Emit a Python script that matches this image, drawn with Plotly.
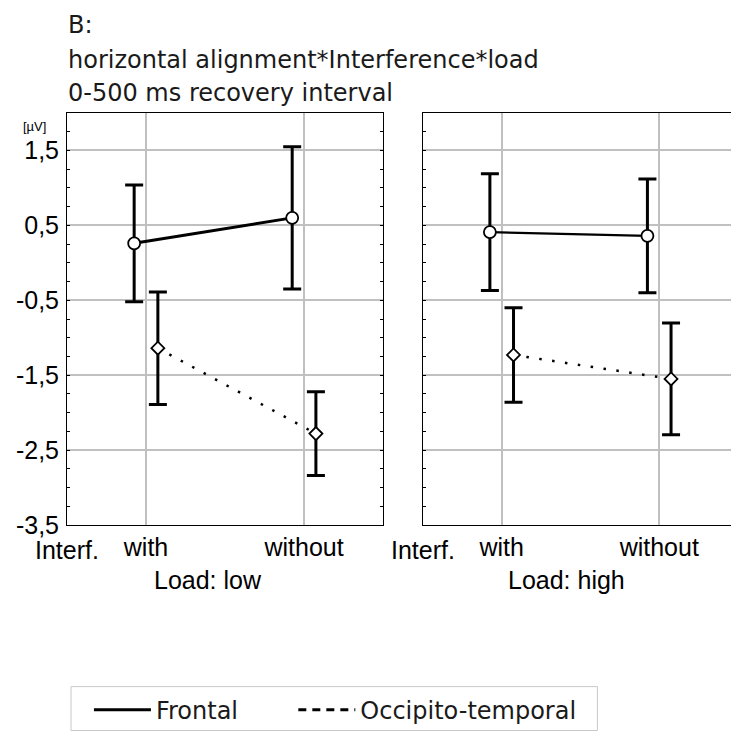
import plotly.graph_objects as go

# ---- data ----
interference = ["with", "without"]
x_pos = [0, 1]
frontal_low = [0.26, 0.60]
frontal_low_err = [0.78, 0.95]
occ_low = [-1.14, -2.28]
occ_low_err = [0.75, 0.56]
frontal_high = [0.41, 0.36]
frontal_high_err = [0.78, 0.76]
occ_high = [-1.23, -1.55]
occ_high_err = [0.63, 0.745]
ytick_vals = [1.5, 0.5, -0.5, -1.5, -2.5, -3.5]
ytick_text = ["1,5", "0,5", "-0,5", "-1,5", "-2,5", "-3,5"]
offset = 0.075

# page has an 8px body margin; all target coordinates below are window pixels
OFF = 8
W, H = 739, 733
L = 66 - OFF
T = 113 - OFF
R = OFF
B = H - (526 - OFF)
PW = W - L - R
PH = H - T - B


def px(x):
    return (x - OFF - L) / PW


def py(y):
    return (H - B - (y - OFF)) / PH


fig = go.Figure()


def add_series(xs, ys, errs, dash, symbol, msize, lw, xa, ya):
    fig.add_trace(go.Scatter(
        x=xs, y=ys, mode="lines+markers", xaxis=xa, yaxis=ya, showlegend=False,
        line=dict(color="black", width=lw, dash=dash),
        marker=dict(symbol=symbol, size=msize, color="white",
                    line=dict(color="black", width=1.8)),
        error_y=dict(type="data", array=errs, visible=True, color="black",
                     thickness=3, width=9),
        cliponaxis=False,
    ))


xl = [v - offset for v in x_pos]
xr = [v + offset for v in x_pos]
add_series(xl, frontal_low, frontal_low_err, "solid", "circle", 12, 3, "x", "y")
add_series(xr, occ_low, occ_low_err, "2.5px,10.5px", "diamond", 10, 2.5, "x", "y")
add_series(xl, frontal_high, frontal_high_err, "solid", "circle", 12, 2.2, "x2", "y2")
add_series(xr, occ_high, occ_high_err, "2.5px,10.5px", "diamond", 10, 2.5, "x2", "y2")

# legend entries (two legends so each can be placed like the reference)
fig.add_trace(go.Scatter(x=[None], y=[None], mode="lines", name="Frontal",
                         legend="legend",
                         line=dict(color="black", width=3)))
fig.add_trace(go.Scatter(x=[None], y=[None], mode="lines", name="Occipito-temporal",
                         legend="legend2",
                         line=dict(color="black", width=3, dash="8px,6px")))

d1 = [0, px(383)]
d2 = [px(423), 1]

xcommon = dict(range=[-0.5, 1.5], tickvals=x_pos, ticktext=interference,
               showgrid=True, gridcolor="#c0c0c0", gridwidth=1.5,
               showline=True, linecolor="black", linewidth=1, mirror=True,
               ticks="", zeroline=False,
               tickfont=dict(family="Liberation Sans, Arial", size=25, color="black"),
               ticklabelstandoff=0)
ycommon = dict(range=[-3.5, 2.0], tickvals=ytick_vals, ticktext=ytick_text,
               showgrid=True, gridcolor="#c0c0c0", gridwidth=1.5,
               showline=True, linecolor="black", linewidth=1, mirror="allticks",
               ticks="inside", ticklen=3, tickcolor="black", zeroline=False,
               minor=dict(dtick=0.25, tick0=-3.5, ticks="inside", ticklen=3,
                          tickcolor="black", showgrid=False),
               tickfont=dict(family="Liberation Sans, Arial", size=25, color="black"))

leg_common = dict(orientation="h", xanchor="left", yanchor="top", y=py(689),
                  borderwidth=0, bgcolor="rgba(0,0,0,0)",
                  font=dict(family="DejaVu Sans", size=24, color="#1a1a1a"),
                  itemwidth=57)

fig.update_layout(
    width=W, height=H, autosize=False,
    margin=dict(l=L, r=R, t=T, b=B, pad=0),
    paper_bgcolor="white", plot_bgcolor="white",
    xaxis=dict(domain=d1, anchor="y", **xcommon),
    xaxis2=dict(domain=d2, anchor="y2", **xcommon),
    yaxis=dict(domain=[0, 1], anchor="x", ticklabelstandoff=2, **ycommon),
    yaxis2=dict(domain=[0, 1], anchor="x2", matches="y", showticklabels=False, **ycommon),
    showlegend=True,
    legend=dict(x=px(88), **leg_common),
    legend2=dict(x=px(293), **leg_common),
)

# legend frame
fig.add_shape(type="rect", xref="paper", yref="paper",
              x0=px(70), x1=px(598), y0=py(732), y1=py(688),
              line=dict(color="#c8c8c8", width=1), fillcolor="rgba(0,0,0,0)", layer="below")

ann_title = dict(family="DejaVu Sans", color="#1a1a1a")
fig.add_annotation(text="B:", x=px(65), y=py(9), xref="paper", yref="paper",
                   xanchor="left", yanchor="top", showarrow=False,
                   font=dict(size=24, **ann_title))
fig.add_annotation(text="horizontal alignment*Interference*load", x=px(65), y=py(60),
                   xref="paper", yref="paper", xanchor="left", yanchor="middle",
                   showarrow=False, font=dict(size=24, **ann_title))
fig.add_annotation(text="0-500 ms recovery interval", x=px(65), y=py(93),
                   xref="paper", yref="paper", xanchor="left", yanchor="middle",
                   showarrow=False, font=dict(size=24, **ann_title))
fig.add_annotation(text="[µV]", x=px(33), y=py(127), xref="paper", yref="paper",
                   xanchor="center", yanchor="middle", showarrow=False,
                   font=dict(family="Liberation Sans, Arial", size=13, color="black"))

lab_font = dict(family="Liberation Sans, Arial", size=25, color="black")
for cx in (66, 423.5):
    fig.add_annotation(text="Interf.", x=px(cx), y=py(551), xref="paper", yref="paper",
                       xanchor="center", yanchor="middle", showarrow=False, font=lab_font)
for txt, cx in (("Load: low", 207), ("Load: high", 567)):
    fig.add_annotation(text=txt, x=px(cx), y=py(581), xref="paper", yref="paper",
                       xanchor="center", yanchor="middle", showarrow=False, font=lab_font)

fig.write_html("out.html")
